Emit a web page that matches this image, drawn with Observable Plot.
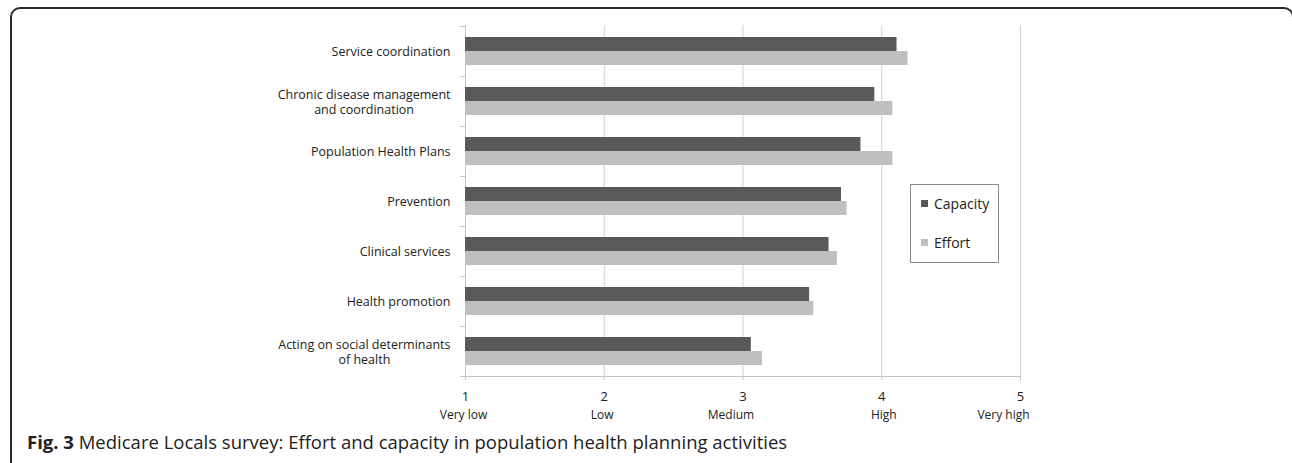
<!DOCTYPE html>
<html>
<head>
<meta charset="utf-8">
<script src="https://cdn.jsdelivr.net/npm/d3@7"></script>
<script src="https://cdn.jsdelivr.net/npm/@observablehq/plot@0.6"></script>
<style>
  html, body { margin: 0; padding: 0; background: #fff; }
  body { font-family: "Open Sans", sans-serif; }
  #wrap { position: relative; width: 1292px; height: 463px; overflow: hidden; }
  #frame { position: absolute; left: 10px; top: 7px; width: 1284px; height: 520px;
           border: 2px solid #2a2a2a; border-radius: 10px; box-sizing: border-box; }
  #chart { position: absolute; left: 0; top: 0; }
  #legend { position: absolute; left: 910px; top: 184px; width: 89px; height: 79px;
            border: 1px solid #8a8a8a; box-sizing: border-box; background: #fff;
            font-family: "Open Sans", sans-serif; font-size: 14px; color: #222; }
  .item { position: absolute; left: 10px; display: flex; align-items: center; }
  .sw { width: 7px; height: 7px; margin-right: 6px; }
  #caption { position: absolute; left: 27px; top: 429px; font-size: 18.5px; color: #222;
             white-space: nowrap; font-family: "Open Sans", sans-serif; }
</style>
</head>
<body>
<div id="wrap">
  <div id="frame"></div>
  <div id="chart"></div>
  <div id="legend"></div>
  <div id="caption"><b>Fig. 3</b> Medicare Locals survey: Effort and capacity in population health planning activities</div>
</div>
<script>
const categories = [
  "Service coordination",
  "Chronic disease management\nand coordination",
  "Population Health Plans",
  "Prevention",
  "Clinical services",
  "Health promotion",
  "Acting on social determinants\nof health"
];
const capacity = [4.11, 3.95, 3.85, 3.71, 3.62, 3.48, 3.06];
const effort   = [4.19, 4.08, 4.08, 3.75, 3.68, 3.51, 3.14];
const series = ["Capacity", "Effort"];
const seriesColors = ["#595959", "#bfbfbf"];
const xTicks = [1, 2, 3, 4, 5];
const xTickLabels = ["Very low", "Low", "Medium", "High", "Very high"];

const rows = categories.map((c, i) => ({category: c, capacity: capacity[i], effort: effort[i]}));

// measure label widths so multi-line labels are centred as a right-aligned block
const labelFont = 12.5;
const ctx = document.createElement("canvas").getContext("2d");
ctx.font = `${labelFont}px 'Open Sans'`;
const labelWidth = c => Math.max(...c.split("\n").map(s => ctx.measureText(s).width));

const gridColor = "#d0d0d0";
const axisColor = "#c4c4c4";

const labelMarks = categories.map(c => Plot.text([c], {
  y: d => d, text: d => d, frameAnchor: "left", textAnchor: "middle",
  dx: -15 - labelWidth(c) / 2, fontSize: labelFont, lineHeight: 1.2, fill: "#222"
}));

// horizontal nudges of the verbal scale labels, as placed in the original figure
const verbalNudge = [-2, -2, -12, 2, -17];
const verbalMarks = xTicks.map((t, i) => Plot.text([t], {
  x: d => d, text: () => xTickLabels[i], frameAnchor: "bottom", dy: 42, dx: verbalNudge[i],
  fontSize: 12, fill: "#222"
}));

const chart = Plot.plot({
  width: 1292,
  height: 430,
  marginLeft: 465,
  marginRight: 272,
  marginTop: 25,
  marginBottom: 54,
  style: {fontFamily: "'Open Sans', sans-serif", background: "transparent"},
  x: {domain: [1, 5], label: null, axis: null},
  y: {domain: categories, padding: 0, axis: null},
  marks: [
    Plot.ruleX(xTicks.slice(1), {stroke: gridColor}),
    Plot.ruleX([xTicks[0]], {stroke: axisColor}),
    Plot.frame({anchor: "bottom", stroke: axisColor}),
    Plot.ruleY(categories, {y: d => d, x1: xTicks[0], x2: xTicks[0], insetLeft: -5, dy: -25, stroke: axisColor}),
    Plot.ruleY(categories.slice(-1), {y: d => d, x1: xTicks[0], x2: xTicks[0], insetLeft: -5, dy: 25, stroke: axisColor}),
    Plot.barX(rows, {y: "category", x1: xTicks[0], x2: "capacity", fill: seriesColors[0], insetTop: 11, insetBottom: 25}),
    Plot.barX(rows, {y: "category", x1: xTicks[0], x2: "effort", fill: seriesColors[1], insetTop: 25, insetBottom: 11}),
    ...labelMarks,
    Plot.axisX(xTicks, {tickSize: 4, tickPadding: 11, fontSize: 13, stroke: axisColor, fill: "#222", tickFormat: d => String(d), label: null}),
    ...verbalMarks
  ]
});
document.getElementById("chart").appendChild(chart);

// legend
const legend = document.getElementById("legend");
const tops = [9, 48];
series.forEach((s, i) => {
  const it = document.createElement("div");
  it.className = "item";
  it.style.top = tops[i] + "px";
  it.innerHTML = `<span class="sw" style="background:${seriesColors[i]}"></span><span>${s}</span>`;
  legend.appendChild(it);
});
</script>
</body>
</html>
